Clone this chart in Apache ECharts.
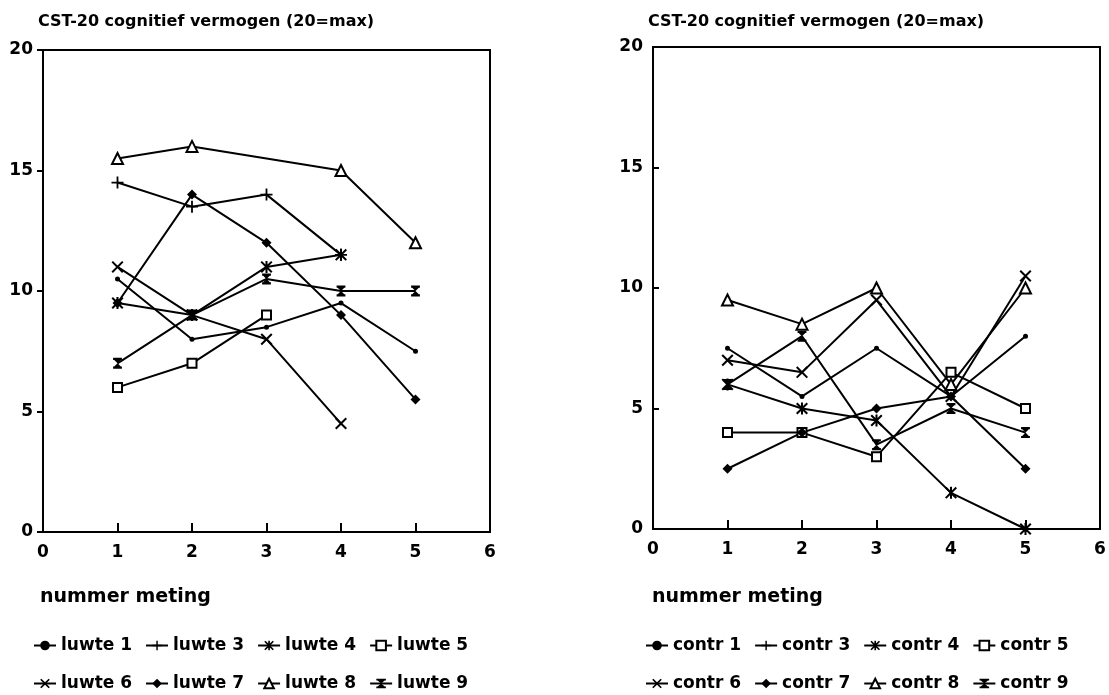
<!DOCTYPE html>
<html>
<head>
<meta charset="utf-8">
<script src="https://cdn.jsdelivr.net/npm/echarts@6/dist/echarts.min.js"></script>
<style>
  html, body { margin: 0; padding: 0; background: #fff; }
  #chart { width: 1109px; height: 695px; }
</style>
</head>
<body>
<div id="chart"></div>
<script>
// Measurement numbers (x) and CST-20 scores per person
const metingen = [1, 2, 3, 4, 5];
const xTicks = [0, 1, 2, 3, 4, 5, 6];
const yTicks = [0, 5, 10, 15, 20];

const luwteNames = ['luwte 1', 'luwte 3', 'luwte 4', 'luwte 5', 'luwte 6', 'luwte 7', 'luwte 8', 'luwte 9'];
const luwte1 = [10.5, 8, 8.5, 9.5, 7.5];
const luwte3 = [14.5, 13.5, 14, 11.5, null];
const luwte4 = [9.5, 9, 11, 11.5, null];
const luwte5 = [6, 7, 9, null, null];
const luwte6 = [11, 9, 8, 4.5, null];
const luwte7 = [9.5, 14, 12, 9, 5.5];
const luwte8 = [15.5, 16, null, 15, 12];
const luwte9 = [7, 9, 10.5, 10, 10];

const contrNames = ['contr 1', 'contr 3', 'contr 4', 'contr 5', 'contr 6', 'contr 7', 'contr 8', 'contr 9'];
const contr1 = [7.5, 5.5, 7.5, 5.5, 8];
const contr3 = [null, null, null, null, null];
const contr4 = [6, 5, 4.5, 1.5, 0];
const contr5 = [4, 4, 3, 6.5, 5];
const contr6 = [7, 6.5, 9.5, 5.5, 10.5];
const contr7 = [2.5, 4, 5, 5.5, 2.5];
const contr8 = [9.5, 8.5, 10, 6, 10];
const contr9 = [6, 8, 3.5, 5, 4];

// Marker shapes, drawn in a 20x20 box
const xShape = 'M0,2.4L2.4,0L10,7.6L17.6,0L20,2.4L12.4,10L20,17.6L17.6,20L10,12.4L2.4,20L0,17.6L7.6,10Z';
const SYMBOLS = {
  dot: 'circle',
  plus: 'path://M8.5,0H11.5V8.5H20V11.5H11.5V20H8.5V11.5H0V8.5H8.5Z',
  star: 'path://' + xShape + 'M8.3,0H11.7V20H8.3Z',
  square: 'emptyRect',
  cross: 'path://' + xShape,
  diamond: 'diamond',
  triangle: 'emptyTriangle',
  hourglass: 'path://M2,0H18V4H2ZM4,4H16L10,10ZM10,10L16,16H4ZM2,16H18V20H2Z'
};
const shapeOrder = ['dot', 'plus', 'star', 'square', 'cross', 'diamond', 'triangle', 'hourglass'];
const SIZES = { dot: 5, plus: 12, star: 12, square: 9, cross: 12, diamond: 10, triangle: 11, hourglass: 11 };

const FONT = '"DejaVu Sans", "Liberation Sans", Arial, sans-serif';

function makeSeries(names, values, gridIndex) {
  return names.map((name, i) => {
    const shape = shapeOrder[i];
    return {
      name: name,
      type: 'line',
      xAxisIndex: gridIndex,
      yAxisIndex: gridIndex,
      data: metingen.map((m, k) => [m, values[i][k]]),
      connectNulls: true,
      symbol: SYMBOLS[shape],
      symbolSize: SIZES[shape],
      symbolKeepAspect: true,
      showAllSymbol: true,
      lineStyle: { color: '#000', width: 2 },
      itemStyle: { color: '#000', borderColor: '#000', borderWidth: shape === 'square' || shape === 'triangle' ? 2 : 0 },
      emphasis: { disabled: true },
      animation: false,
      z: 3
    };
  });
}

const luwteValues = [luwte1, luwte3, luwte4, luwte5, luwte6, luwte7, luwte8, luwte9];
const contrValues = [contr1, contr3, contr4, contr5, contr6, contr7, contr8, contr9];

const gridLeft = [43, 653];
const gridTop = [50, 47];
const plotW = 447, plotH = 482;

function xAxisFor(i) {
  return {
    type: 'value', gridIndex: i, min: xTicks[0], max: xTicks[xTicks.length - 1], interval: 1,
    axisLine: { show: true, onZero: false, lineStyle: { color: '#000', width: 2 } },
    axisTick: { show: true, inside: true, length: 9, lineStyle: { color: '#000', width: 2 } },
    axisLabel: { color: '#000', fontFamily: FONT, fontWeight: 'bold', fontSize: 17, margin: 12 },
    splitLine: { show: false }
  };
}
function yAxisFor(i) {
  return {
    type: 'value', gridIndex: i, min: yTicks[0], max: yTicks[yTicks.length - 1], interval: 5,
    axisLine: { show: true, onZero: false, lineStyle: { color: '#000', width: 2 } },
    axisTick: { show: true, inside: i === 1, length: 6, lineStyle: { color: '#000', width: 2 } },
    axisLabel: { color: '#000', fontFamily: FONT, fontWeight: 'bold', fontSize: 17, margin: 10 },
    splitLine: { show: false }
  };
}

function legendRow(names, left, top, gap) {
  return {
    data: names, left: left, top: top, orient: 'horizontal',
    itemWidth: 22, itemHeight: 12, itemGap: gap,
    selectedMode: false,
    textStyle: { color: '#000', fontFamily: FONT, fontWeight: 'bold', fontSize: 17 },
    padding: 0
  };
}

const titleStyle = { color: '#000', fontFamily: FONT, fontWeight: 'bold', fontSize: 16 };
const axisNameStyle = { color: '#000', fontFamily: FONT, fontWeight: 'bold', fontSize: 19 };

const option = {
  backgroundColor: '#fff',
  animation: false,
  title: [
    { text: 'CST-20 cognitief vermogen (20=max)', left: 38, top: 14, textStyle: titleStyle, padding: 0 },
    { text: 'CST-20 cognitief vermogen (20=max)', left: 648, top: 14, textStyle: titleStyle, padding: 0 },
    { text: 'nummer meting', left: 40, top: 588, textStyle: axisNameStyle, padding: 0 },
    { text: 'nummer meting', left: 652, top: 588, textStyle: axisNameStyle, padding: 0 }
  ],
  grid: [0, 1].map(i => ({
    left: gridLeft[i], top: gridTop[i], width: plotW, height: plotH,
    show: true, borderColor: '#000', borderWidth: 2, backgroundColor: 'transparent'
  })),
  xAxis: [xAxisFor(0), xAxisFor(1)],
  yAxis: [yAxisFor(0), yAxisFor(1)],
  legend: [
    legendRow(luwteNames.slice(0, 4), 33, 637, 13),
    legendRow(luwteNames.slice(4), 33, 675, 13),
    legendRow(contrNames.slice(0, 4), 645, 637, 13),
    legendRow(contrNames.slice(4), 645, 675, 13)
  ],
  series: makeSeries(luwteNames, luwteValues, 0).concat(makeSeries(contrNames, contrValues, 1))
};

const chart = echarts.init(document.getElementById('chart'), null, { renderer: 'canvas' });
chart.setOption(option);
</script>
</body>
</html>
